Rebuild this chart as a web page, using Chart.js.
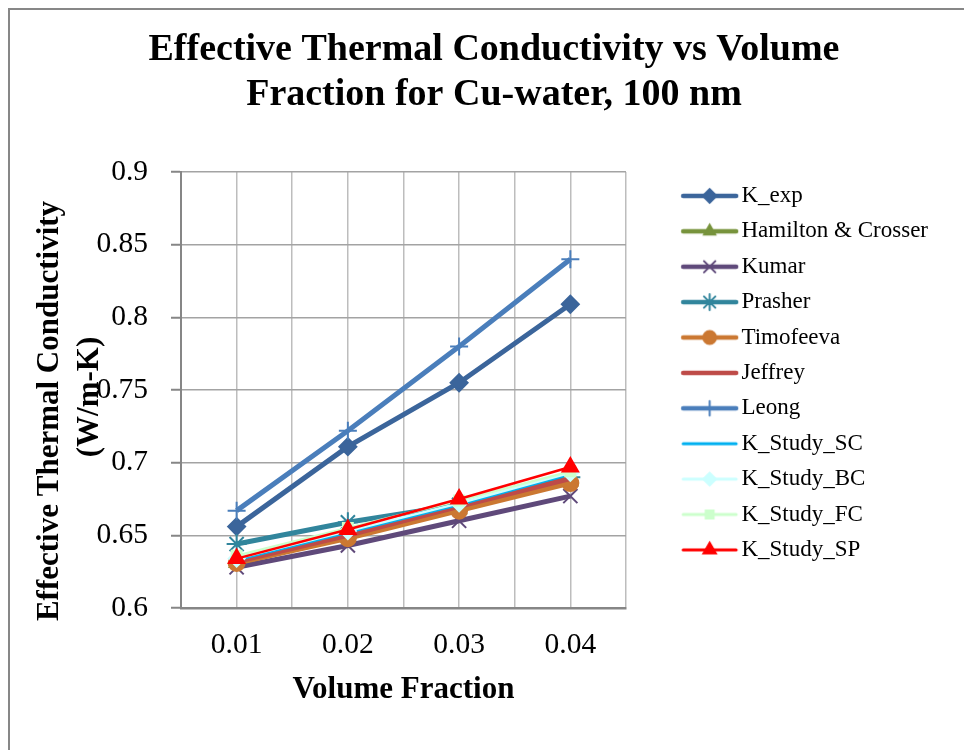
<!DOCTYPE html>
<html>
<head>
<meta charset="utf-8">
<script src="https://cdn.jsdelivr.net/npm/chart.js@4.4.1/dist/chart.umd.min.js"></script>
<style>
  html, body { margin: 0; padding: 0; background: #fff; overflow: hidden; }
  #frame { position: absolute; left: 8px; top: 8px; width: 1000px; height: 800px;
           border-left: 2px solid #878787; border-top: 2px solid #878787; }
  #chart { position: absolute; left: 10px; top: 10px; }
</style>
</head>
<body>
<div id="frame"></div>
<canvas id="chart" width="968" height="740"></canvas>
<script>
// x values (volume fraction)
const volumeFraction = [0.01, 0.02, 0.03, 0.04];

// thermal conductivity per model, W/m-K
const kExp       = [0.656, 0.711, 0.755, 0.809];
const hamilton   = [0.631, 0.649, 0.668, 0.687];
const kumar      = [0.628, 0.643, 0.660, 0.677];
const prasher    = [0.644, 0.659, 0.671, 0.690];
const timofeeva  = [0.631, 0.648, 0.667, 0.686];
const jeffrey    = [0.632, 0.650, 0.670, 0.689];
const leong      = [0.667, 0.722, 0.780, 0.840];
const studySC    = [0.633, 0.652, 0.671, 0.692];
const studyBC    = [0.634, 0.653, 0.672, 0.693];
const studyFC    = [0.636, 0.655, 0.674, 0.694];
const studySP    = [0.634, 0.654, 0.675, 0.697];

const seriesNames = ['K_exp', 'Hamilton & Crosser', 'Kumar', 'Prasher', 'Timofeeva', 'Jeffrey',
                     'Leong', 'K_Study_SC', 'K_Study_BC', 'K_Study_FC', 'K_Study_SP'];
const seriesValues = [kExp, hamilton, kumar, prasher, timofeeva, jeffrey,
                      leong, studySC, studyBC, studyFC, studySP];

const yTicks = [0.6, 0.65, 0.7, 0.75, 0.8, 0.85, 0.9];
const xTickLabels = ['0.01', '0.02', '0.03', '0.04'];

const titleLines = ['Effective Thermal Conductivity vs Volume', 'Fraction for Cu-water, 100 nm'];
const yTitleLines = ['Effective Thermal Conductivity', '(W/m-K)'];
const xTitle = 'Volume Fraction';

// styles (colour, line width, marker, marker radius)
const styles = [
  {color: '#3B659B', width: 5, marker: 'rectRot', r: 8.5},
  {color: '#77933C', width: 5, marker: 'triangle', r: 8},
  {color: '#5F497A', width: 5, marker: 'crossRot', r: 10},
  {color: '#31859C', width: 5, marker: 'star', r: 10},
  {color: '#CB7832', width: 5, marker: 'circle', r: 8},
  {color: '#BE4B48', width: 5, marker: false, r: 0},
  {color: '#4A7EBB', width: 5, marker: 'cross', r: 9},
  {color: '#00B0F0', width: 2.5, marker: 'line', r: 6},
  {color: '#CCFFFF', width: 2.5, marker: 'rectRot', r: 8},
  {color: '#CCFFCC', width: 2.5, marker: 'rect', r: 7},
  {color: '#FF0000', width: 2.5, marker: 'triangle', r: 9}
];

Chart.defaults.font.family = "'Liberation Serif', 'Times New Roman', serif";
Chart.defaults.color = '#000';

// legend icon: line with the marker in the middle (left part transparent as a spacer)
function legendIcon(st) {
  const c = document.createElement('canvas');
  c.width = 114; c.height = 30;
  const g = c.getContext('2d');
  const cy = 15;
  g.strokeStyle = st.color;
  g.fillStyle = st.color;
  g.lineWidth = st.width < 4 ? 3 : 4.5;
  g.lineCap = 'round';
  g.beginPath(); g.moveTo(56, cy); g.lineTo(109, cy); g.stroke();
  if (st.marker) {
    g.lineWidth = 2;
    Chart.helpers.drawPoint(g, {pointStyle: st.marker, radius: st.r * 0.8, borderWidth: 2, rotation: 0}, 82.5, cy);
  }
  return c;
}
const legendIcons = styles.map(legendIcon);

const datasets = seriesNames.map((name, i) => ({
  label: name,
  data: volumeFraction.map((f, j) => ({x: f, y: seriesValues[i][j]})),
  borderColor: styles[i].color,
  backgroundColor: styles[i].color,
  borderWidth: styles[i].width,
  pointStyle: styles[i].marker,
  pointRadius: styles[i].marker ? styles[i].r : 0,
  pointBorderWidth: 2,
  pointBorderColor: styles[i].color,
  pointBackgroundColor: styles[i].color,
  tension: 0,
  order: -i
}));

const yTitlePlugin = {
  id: 'yTitle',
  afterDraw(chart) {
    const {ctx, chartArea} = chart;
    const midY = (chartArea.top + chartArea.bottom) / 2;
    ctx.save();
    ctx.font = "bold 31px 'Liberation Serif'";
    ctx.fillStyle = '#000';
    ctx.textAlign = 'center';
    ctx.textBaseline = 'middle';
    yTitleLines.forEach((line, i) => {
      ctx.save();
      ctx.translate(chartArea.left - 131 + i * 40, midY + (i ? 7 : 21));
      ctx.rotate(-Math.PI / 2);
      ctx.fillText(line, 0, 0);
      ctx.restore();
    });
    ctx.restore();
  }
};

new Chart(document.getElementById('chart'), {
  type: 'line',
  data: {datasets: datasets},
  plugins: [yTitlePlugin],
  options: {
    responsive: false,
    animation: false,
    layout: {padding: {left: 40, right: 40, top: 0, bottom: 0}},
    plugins: {
      tooltip: {enabled: false},
      title: {
        display: true,
        text: titleLines,
        color: '#000',
        font: {size: 38, weight: 'bold', lineHeight: 45 / 38},
        padding: {top: 17.5, bottom: 54.5}
      },
      legend: {
        position: 'right',
        align: 'start',
        fullSize: false,
        maxWidth: 400,
        labels: {
          usePointStyle: true,
          pointStyleWidth: 91.6,
          padding: 12.4,
          color: '#000',
          font: {size: 23},
          generateLabels(chart) {
            const items = Chart.defaults.plugins.legend.labels.generateLabels(chart);
            items.forEach(it => { it.pointStyle = legendIcons[it.datasetIndex]; });
            return items;
          },
          sort: (a, b) => a.datasetIndex - b.datasetIndex
        }
      }
    },
    scales: {
      x: {
        type: 'linear',
        min: 0.005,
        max: 0.045,
        afterFit: s => { s.height = 142; },
        afterBuildTicks: s => {
          s.ticks = [];
          for (let k = 1; k <= 9; k++) s.ticks.push({value: k * 0.005});
        },
        ticks: {
          autoSkip: false,
          maxRotation: 0,
          padding: 20,
          font: {size: 29.5},
          color: '#000',
          callback: (v, idx) => (idx % 2 === 1 ? xTickLabels[(idx - 1) / 2] : '')
        },
        grid: {color: '#BDBDBD', lineWidth: 1.5, drawTicks: false},
        border: {display: true, color: '#868686', width: 2.5},
        title: {
          display: true,
          text: xTitle,
          color: '#000',
          font: {size: 31, weight: 'bold'},
          padding: {top: 0, bottom: 41}
        }
      },
      y: {
        min: 0.6,
        max: 0.9,
        afterFit: s => { s.width = 131; },
        afterBuildTicks: s => { s.ticks = yTicks.map(v => ({value: v})); },
        ticks: {
          padding: 23,
          font: {size: 29.5},
          color: '#000',
          callback: v => String(parseFloat(v.toFixed(2)))
        },
        grid: {color: '#A3A3A3', lineWidth: 1.5, drawTicks: true, tickLength: 10, tickColor: '#868686', tickWidth: 2},
        border: {display: true, color: '#868686', width: 2}
      }
    }
  }
});
</script>
</body>
</html>
